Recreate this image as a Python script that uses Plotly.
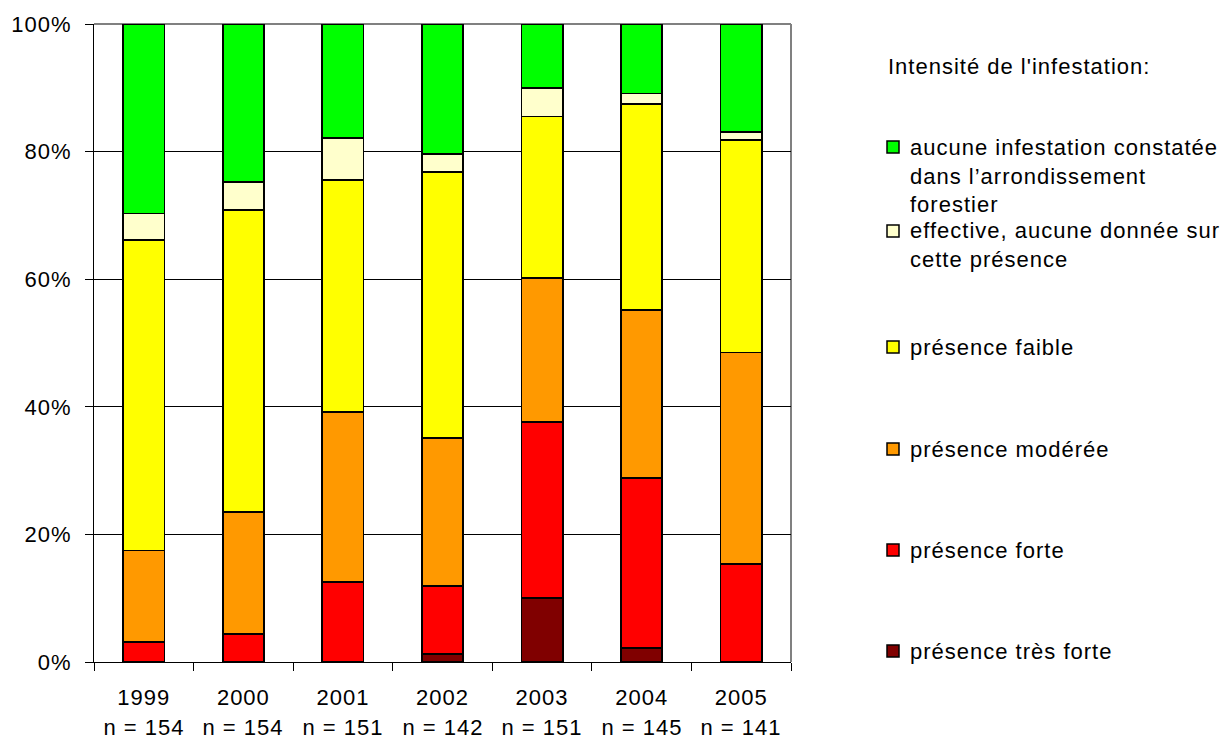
import plotly.graph_objects as go

years = ["1999", "2000", "2001", "2002", "2003", "2004", "2005"]
n_counts = [154, 154, 151, 142, 151, 145, 141]

series_names = [
    "présence très forte",
    "présence forte",
    "présence modérée",
    "présence faible",
    "effective, aucune donnée sur<br>cette présence",
    "aucune infestation constatée<br>dans l’arrondissement<br>forestier",
]
tres_forte = [0.0, 0.0, 0.0, 1.3, 10.0, 2.2, 0.0]
forte = [3.1, 4.4, 12.5, 10.6, 27.6, 26.6, 15.4]
moderee = [14.4, 19.1, 26.7, 23.2, 22.6, 26.4, 33.1]
faible = [48.6, 47.3, 36.3, 41.7, 25.3, 32.3, 33.3]
effective = [4.2, 4.4, 6.6, 2.8, 4.5, 1.6, 1.3]
aucune = [29.7, 24.8, 17.9, 20.4, 10.0, 10.9, 16.9]
series_values = [tres_forte, forte, moderee, faible, effective, aucune]
colors = ["#800000", "#FF0000", "#FF9900", "#FFFF00", "#FFFFCC", "#00FF00"]

legend_title = "Intensité de l'infestation:"
y_ticks = [0, 20, 40, 60, 80, 100]

FONT = "Liberation Sans, Arial, sans-serif"
FS = 22

W, H = 1226, 740
L, R, T, B = 94, 791, 24, 662  # plot area in pixels


def px_x(px):
    return (px - L) / (R - L)


def px_y(py):
    return (B - py) / (B - T)


fig = go.Figure()
for name, vals, col in zip(series_names, series_values, colors):
    fig.add_trace(go.Bar(
        x=years, y=vals, name=name.replace("<br>", " "),
        marker=dict(color=col, line=dict(color="black", width=1.7)),
        showlegend=False, hoverinfo="skip",
    ))

fig.update_layout(
    width=W, height=H,
    barmode="stack", bargap=0.585,
    plot_bgcolor="white", paper_bgcolor="white",
    margin=dict(l=L, r=W - R, t=T, b=H - B, pad=0),
    font=dict(family=FONT, size=FS, color="black"),
)
fig.update_yaxes(
    range=[0, 100], tickvals=y_ticks, ticktext=[f"{v}%" for v in y_ticks],
    showgrid=True, gridcolor="black", gridwidth=1,
    showline=True, linecolor="black", linewidth=1,
    ticks="outside", ticklen=8, tickcolor="black",
    zeroline=False, ticklabelstandoff=9,
)
fig.update_xaxes(
    type="category", categoryorder="array", categoryarray=years,
    range=[-0.5, len(years) - 0.5],
    showline=True, linecolor="black", linewidth=1,
    ticks="outside", tickson="boundaries", ticklen=8, tickcolor="black",
    showgrid=False, ticklabelstandoff=16,
)

# sample sizes under the year labels
for i, n in enumerate(n_counts):
    fig.add_annotation(text=f"n = {n}", xref="x", yref="paper", x=i,
                       y=px_y(727), xanchor="center", yanchor="middle",
                       borderpad=0, showarrow=False)

# grey frame (top and right)
fig.add_shape(type="line", xref="paper", yref="paper", x0=0, x1=1, y0=1, y1=1,
              line=dict(color="#808080", width=2), layer="between")
fig.add_shape(type="line", xref="paper", yref="paper", x0=1, x1=1, y0=0, y1=1,
              line=dict(color="#808080", width=2), layer="between")

# legend (manual, to match original spacing)
fig.add_annotation(text=legend_title, xref="paper", yref="paper",
                   x=px_x(886), y=px_y(67), xanchor="left", yanchor="middle",
                   align="left", showarrow=False)
first_line_y = [651, 550, 449, 347, 231, 147]
line_h = 28.6
for name, col, fy in zip(series_names, colors, first_line_y):
    nl = name.count("<br>") + 1
    cy = fy + (nl - 1) * line_h / 2
    fig.add_annotation(text=name, xref="paper", yref="paper",
                       x=px_x(908), y=px_y(cy), xanchor="left", yanchor="middle",
                       align="left", showarrow=False)
    fig.add_shape(type="rect", xref="paper", yref="paper",
                  x0=px_x(887), x1=px_x(899), y0=px_y(fy + 6), y1=px_y(fy - 6),
                  fillcolor=col, line=dict(color="black", width=1.5))

post = (
    "document.body.style.margin='0';"
    "document.querySelectorAll('svg text').forEach(function(t){t.style.letterSpacing='1px';});"
)
fig.write_html("out.html", post_script=post, config={"displayModeBar": False})
